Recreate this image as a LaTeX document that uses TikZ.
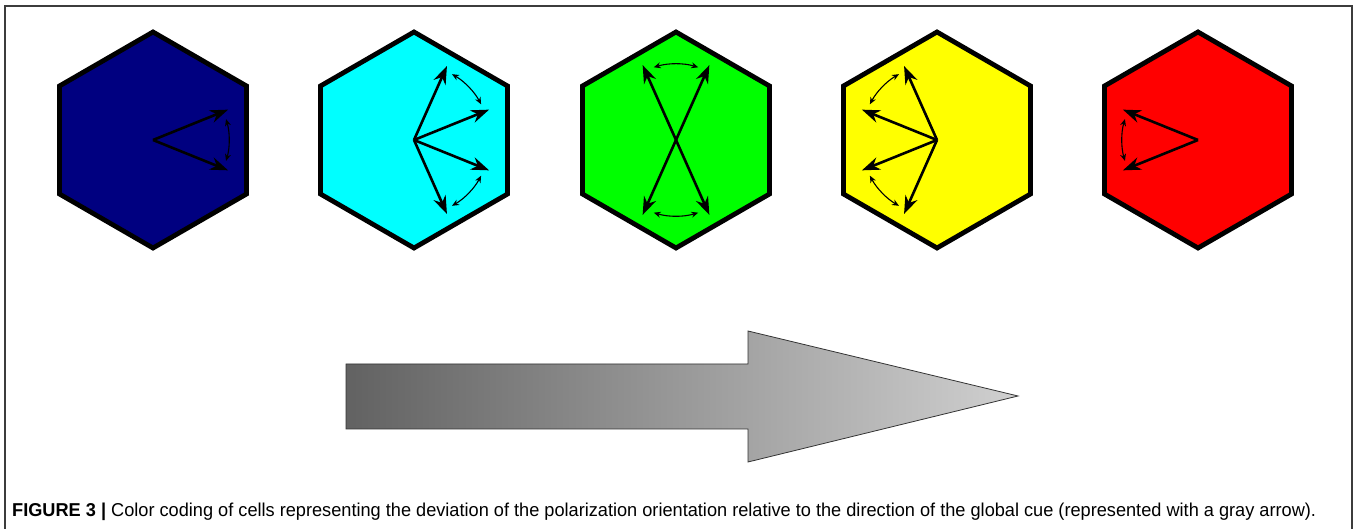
\documentclass[tikz,border=0pt]{standalone}
\usepackage{fontspec}
\setmainfont{Liberation Sans}
\usetikzlibrary{arrows.meta,calc}
\definecolor{hblue}{RGB}{0,0,128}
\definecolor{hcyan}{RGB}{0,255,255}
\definecolor{hgreen}{RGB}{0,255,0}
\definecolor{hyellow}{RGB}{255,255,0}
\definecolor{hred}{RGB}{255,0,0}
\definecolor{framecol}{RGB}{60,60,60}
\definecolor{cueleft}{RGB}{98,98,98}
\definecolor{cueright}{RGB}{208,208,208}
\newcommand{\hexcell}[3]{%
  \coordinate (#1) at (#2,389);
  \draw[hexline, fill=#3] ([shift={(90:108)}]#1) -- ([shift={(150:108)}]#1) -- ([shift={(210:108)}]#1) -- ([shift={(270:108)}]#1) -- ([shift={(330:108)}]#1) -- ([shift={(30:108)}]#1) -- cycle;}
\newcommand{\vecto}[3]{% center, tipname, angle
  \coordinate (#2) at ([shift={(#3:81)}]#1);
  \draw[vec] (#1) -- (#2);}
\newcommand{\swingarc}[3]{% center, start, end
  \draw[swing] ([shift={(#2:76)}]#1) arc[start angle=#2, end angle=#3, radius=76];}
\begin{document}
\begin{tikzpicture}[x=1pt,y=1pt,
  hexline/.style={draw=black, line width=4.8pt, line join=miter},
  vec/.style={line width=2.6pt, -{Stealth[length=18pt,width=13pt]}},
  dvec/.style={line width=2.6pt, {Stealth[length=18pt,width=13pt]}-{Stealth[length=18pt,width=13pt]}},
  swing/.style={line width=1.1pt, {Stealth[length=7pt,width=6pt]}-{Stealth[length=7pt,width=6pt]}},
  cue/.style={draw=black!80, line width=0.8pt, left color=cueleft, right color=cueright}]
\useasboundingbox (0,0) rectangle (1355,529);
% frame
\coordinate (fbl) at (5,0);
\coordinate (ftl) at (5,523);
\coordinate (ftr) at (1352,523);
\coordinate (fbr) at (1352,0);
\draw[framecol, line width=1.5pt] (fbl) -- (ftl) -- (ftr) -- (fbr);
% cells
\hexcell{h1}{153}{hblue}
\vecto{h1}{h1a}{22}
\vecto{h1}{h1b}{-22}
\swingarc{h1}{-16}{16}

\hexcell{h2}{414}{hcyan}
\vecto{h2}{h2a}{66}
\vecto{h2}{h2b}{22}
\vecto{h2}{h2c}{-22}
\vecto{h2}{h2d}{-66}
\swingarc{h2}{28}{60}
\swingarc{h2}{-60}{-28}

\hexcell{h3}{676}{hgreen}
\coordinate (h3a) at ([shift={(66:82)}]h3);
\coordinate (h3b) at ([shift={(114:82)}]h3);
\coordinate (h3c) at ([shift={(-114:82)}]h3);
\coordinate (h3d) at ([shift={(-66:82)}]h3);
\draw[dvec] (h3c) -- (h3a);
\draw[dvec] (h3d) -- (h3b);
\swingarc{h3}{73}{107}
\swingarc{h3}{-107}{-73}

\hexcell{h4}{937}{hyellow}
\vecto{h4}{h4a}{114}
\vecto{h4}{h4b}{158}
\vecto{h4}{h4c}{-158}
\vecto{h4}{h4d}{-114}
\swingarc{h4}{120}{152}
\swingarc{h4}{-152}{-120}

\hexcell{h5}{1198}{hred}
\vecto{h5}{h5a}{158}
\vecto{h5}{h5b}{-158}
\swingarc{h5}{164}{196}
% global cue arrow
\coordinate (c1) at (346,165);
\coordinate (c2) at (748,165);
\coordinate (c3) at (748,198);
\coordinate (ctip) at (1018,133);
\coordinate (c4) at (748,67);
\coordinate (c5) at (748,100);
\coordinate (c6) at (346,100);
\path[cue] (c1) -- (c2) -- (c3) -- (ctip) -- (c4) -- (c5) -- (c6) -- cycle;
% caption
\node[anchor=base west, inner sep=0pt] (cap) at (12,12) {\resizebox{1304pt}{13.5pt}{\textbf{FIGURE 3 |} Color coding of cells representing the deviation of the polarization orientation relative to the direction of the global cue (represented with a gray arrow).}};
\end{tikzpicture}
\end{document}
